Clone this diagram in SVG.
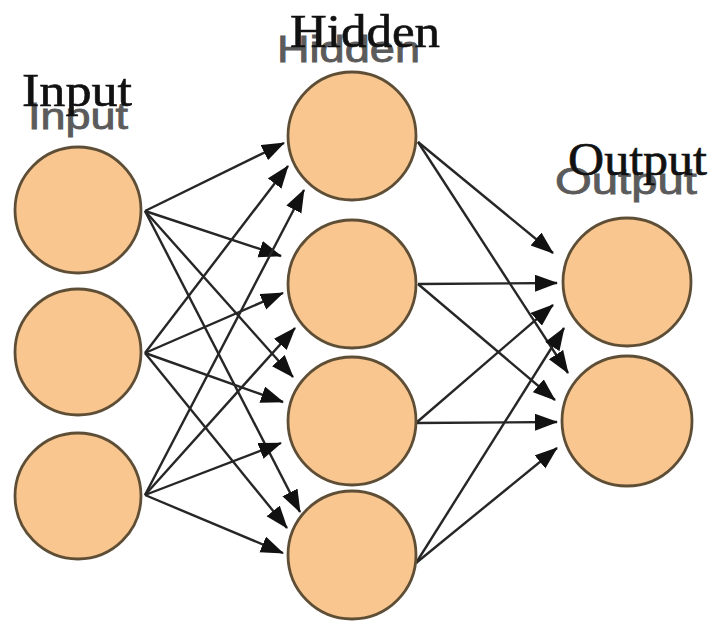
<svg xmlns="http://www.w3.org/2000/svg" width="715" height="632" viewBox="0 0 715 632">
<style>
.node{fill:#f9c690;stroke:#5e4e36;stroke-width:2.8}
.edge{stroke:#262626;stroke-width:2.4;fill:none;marker-end:url(#arr)}
.lbl{font-family:"Liberation Serif",serif;font-size:46px;fill:#111;stroke:#111;stroke-width:0.6}
.shadow{font-family:"Liberation Sans",sans-serif;font-size:36px;fill:#4a4a4a;stroke:#4a4a4a;stroke-width:0.8;opacity:0.9}
</style>
<defs>
<marker id="arr" markerUnits="userSpaceOnUse" markerWidth="24" markerHeight="18" refX="22" refY="8.5" orient="auto">
<path d="M0,0 L23,8.5 L0,17 z" fill="#111"/>
</marker>
</defs>
<rect width="715" height="632" fill="#ffffff"/>
<g id="labels">
<text class="shadow" x="28" y="129" textLength="100" lengthAdjust="spacingAndGlyphs">Input</text>
<text class="lbl" x="22" y="106" textLength="110" lengthAdjust="spacingAndGlyphs">Input</text>
<text class="shadow" x="277" y="62" textLength="143" lengthAdjust="spacingAndGlyphs">Hidden</text>
<text class="lbl" x="290" y="47" textLength="150" lengthAdjust="spacingAndGlyphs">Hidden</text>
<text class="shadow" x="555" y="194" textLength="142" lengthAdjust="spacingAndGlyphs">Output</text>
<text class="lbl" x="568" y="175" textLength="139" lengthAdjust="spacingAndGlyphs">Output</text>
</g>
<g id="connectors">
<line class="edge" x1="145" y1="211" x2="284" y2="143"/>
<line class="edge" x1="145" y1="211" x2="281" y2="256"/>
<line class="edge" x1="145" y1="211" x2="293" y2="377"/>
<line class="edge" x1="145" y1="211" x2="300" y2="512"/>
<line class="edge" x1="145" y1="353" x2="288" y2="166"/>
<line class="edge" x1="145" y1="353" x2="283" y2="293"/>
<line class="edge" x1="145" y1="353" x2="283" y2="402"/>
<line class="edge" x1="145" y1="353" x2="287" y2="528"/>
<line class="edge" x1="145" y1="495" x2="304" y2="190"/>
<line class="edge" x1="145" y1="495" x2="295" y2="328"/>
<line class="edge" x1="145" y1="495" x2="281" y2="443"/>
<line class="edge" x1="145" y1="495" x2="283" y2="553"/>
<line class="edge" x1="418" y1="142" x2="553" y2="253"/>
<line class="edge" x1="418" y1="142" x2="568" y2="373"/>
<line class="edge" x1="418" y1="284" x2="557" y2="283"/>
<line class="edge" x1="418" y1="284" x2="555" y2="400"/>
<line class="edge" x1="416" y1="423" x2="553" y2="305"/>
<line class="edge" x1="416" y1="423" x2="557" y2="422"/>
<line class="edge" x1="416" y1="563" x2="564" y2="328"/>
<line class="edge" x1="416" y1="563" x2="557" y2="448"/>
</g>
<g id="input1"><circle class="node" cx="78" cy="210" r="63"/></g>
<g id="input2"><circle class="node" cx="78" cy="352" r="63"/></g>
<g id="input3"><circle class="node" cx="78" cy="496" r="63"/></g>
<g id="hidden1"><circle class="node" cx="352" cy="136" r="64"/></g>
<g id="hidden2"><circle class="node" cx="352" cy="284" r="64"/></g>
<g id="hidden3"><circle class="node" cx="352" cy="421" r="64"/></g>
<g id="hidden4"><circle class="node" cx="352" cy="555" r="64"/></g>
<g id="output1"><circle class="node" cx="627" cy="282" r="64"/></g>
<g id="output2"><circle class="node" cx="627" cy="421" r="65"/></g>
</svg>
